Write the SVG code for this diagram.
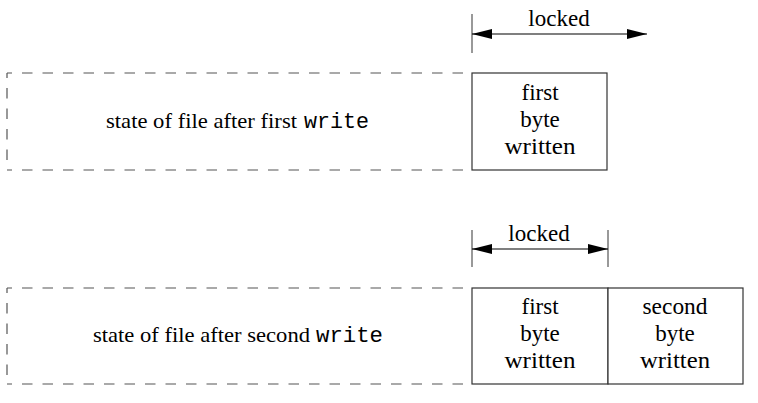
<svg xmlns="http://www.w3.org/2000/svg" width="758" height="403" viewBox="0 0 758 403">
<defs>
<marker id="ah" viewBox="0 0 20 10" refX="20" refY="5" markerWidth="20" markerHeight="10" markerUnits="userSpaceOnUse" orient="auto-start-reverse">
<path d="M0,0 L20,5 L0,10 Z" fill="#000"/>
</marker>
</defs>
<style>
.t{font-family:"Liberation Serif","DejaVu Serif",serif;font-size:23px;fill:#000;text-anchor:middle}
.s{font-family:"Liberation Serif","DejaVu Serif",serif;font-size:22px;fill:#000}
.m{font-family:"Liberation Mono","DejaVu Sans Mono",monospace;font-size:22px;fill:#000}
.box{fill:#fff;stroke:#333;stroke-width:1.2}
.dash{fill:none;stroke:#555;stroke-width:1.2;stroke-dasharray:10.5 10;stroke-dashoffset:5.5}
.tick{stroke:#555;stroke-width:1.2}
.arr{stroke:#000;stroke-width:1.2;fill:none}
</style>
<rect width="758" height="403" fill="#fff"/>

<g id="file1">
<line class="dash" x1="7" y1="73" x2="472" y2="73"/>
<line class="dash" x1="7" y1="73" x2="7" y2="170"/>
<line class="dash" x1="7" y1="170" x2="472" y2="170"/>
<text class="s" x="106" y="128" textLength="191" lengthAdjust="spacingAndGlyphs">state of file after first</text>
<text class="m" x="304" y="128" textLength="65" lengthAdjust="spacingAndGlyphs">write</text>
</g>
<g id="byte1a">
<rect class="box" x="472" y="73" width="135" height="97"/>
<text class="t" x="540" y="100">first</text>
<text class="t" x="540" y="127">byte</text>
<text class="t" x="540" y="154" textLength="71" lengthAdjust="spacingAndGlyphs">written</text>
</g>

<g id="file2">
<line class="dash" x1="7" y1="288" x2="472" y2="288"/>
<line class="dash" x1="7" y1="288" x2="7" y2="384"/>
<line class="dash" x1="7" y1="384" x2="472" y2="384"/>
<text class="s" x="93" y="342" textLength="217" lengthAdjust="spacingAndGlyphs">state of file after second</text>
<text class="m" x="316" y="342" textLength="67" lengthAdjust="spacingAndGlyphs">write</text>
</g>
<g id="byte1b">
<rect class="box" x="472" y="288" width="136" height="96"/>
<text class="t" x="540" y="314">first</text>
<text class="t" x="540" y="341">byte</text>
<text class="t" x="540" y="368" textLength="71" lengthAdjust="spacingAndGlyphs">written</text>
</g>
<g id="byte2">
<rect class="box" x="608" y="288" width="135" height="96"/>
<text class="t" x="675" y="314" textLength="65" lengthAdjust="spacingAndGlyphs">second</text>
<text class="t" x="675" y="341">byte</text>
<text class="t" x="675" y="368" textLength="70" lengthAdjust="spacingAndGlyphs">written</text>
</g>

<g id="connectors">
<line class="tick" x1="472" y1="14" x2="472" y2="53"/>
<line class="arr" x1="472" y1="34" x2="647" y2="34" marker-start="url(#ah)" marker-end="url(#ah)"/>
<text class="t" x="559" y="26">locked</text>
<line class="tick" x1="472" y1="230" x2="472" y2="267"/>
<line class="tick" x1="608" y1="230" x2="608" y2="267"/>
<line class="arr" x1="472" y1="249" x2="608" y2="249" marker-start="url(#ah)" marker-end="url(#ah)"/>
<text class="t" x="539" y="241">locked</text>
</g>
</svg>
